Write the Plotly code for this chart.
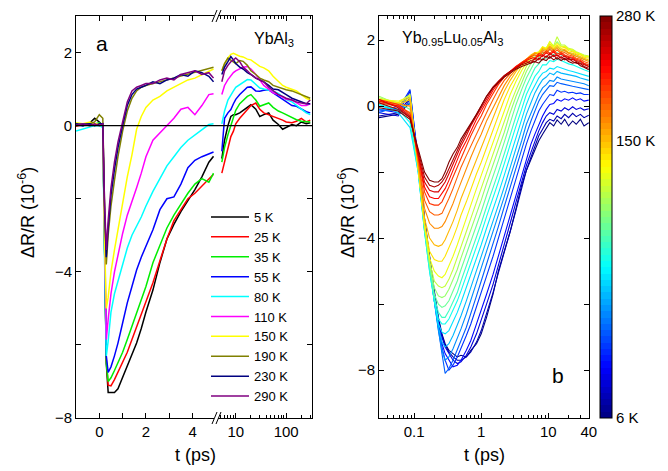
import numpy as np
import plotly.graph_objects as go

W, H = 668, 471

# ---------------- Panel a (YbAl3) ----------------
a_labels = ['5 K', '25 K', '35 K', '55 K', '80 K', '110 K', '150 K', '190 K', '230 K', '290 K']
a_colors = ['#000000', '#ff0000', '#00ee00', '#0000ff', '#00ffff', '#ff00ff',
            '#ffff00', '#808000', '#000080', '#800080']

t_a_left = [-1.0, -0.7, -0.4, -0.2, 0.0, 0.15, 0.22, 0.3, 0.38, 0.5, 0.65, 0.8, 1.0, 1.2,
            1.4, 1.6, 1.8, 2.0, 2.3, 2.6, 2.9, 3.2, 3.5, 3.8, 4.1, 4.4, 4.7, 4.9]
t_a_right = [5.3, 6, 7, 8, 9, 10, 12, 14, 17, 20, 25, 30, 36, 45, 55, 70, 85, 100, 130,
             160, 200, 250, 300]

a5_left = [0.05, 0.0, 0.08, 0.2, 0.1, 0.0, -3.0, -6.5, -7.3, -7.3, -7.3, -7.2, -6.9, -6.6,
           -6.3, -5.95, -5.55, -5.1, -4.5, -3.75, -3.1, -2.7, -2.35, -2.05, -1.75, -1.4, -1.0, -0.84]
a5_right = [-0.9, -0.4, 0.0, 0.25, 0.3, 0.3, 0.35, 0.42, 0.5, 0.57, 0.45, 0.25, 0.3, 0.35,
            0.15, 0.03, -0.1, -0.05, 0.03, 0.0, 0.1, 0.05, 0.08]
a25_left = [-0.02, 0.03, 0.0, 0.05, 0.05, 0.0, -3.0, -6.4, -7.1, -7.12, -6.95, -6.75, -6.5, -6.2,
            -5.85, -5.5, -5.2, -4.8, -4.3, -3.7, -3.1, -2.6, -2.3, -2.0, -1.85, -1.65, -1.45, -1.33]
a25_right = [-1.3, -1.0, -0.55, -0.3, -0.15, 0.05, 0.2, 0.3, 0.45, 0.55, 0.62, 0.45, 0.35, 0.3,
             0.25, 0.2, 0.15, 0.1, 0.08, 0.12, 0.2, 0.1, 0.15]
a35_left = [0.0, 0.05, 0.02, 0.05, 0.08, 0.0, -3.2, -6.5, -7.0, -6.9, -6.7, -6.5, -6.2, -5.85,
            -5.5, -5.15, -4.8, -4.4, -3.75, -3.25, -2.8, -2.45, -2.15, -1.85, -1.6, -1.45, -1.55, -1.3]
a35_right = [-1.0, -0.6, -0.25, 0.0, 0.25, 0.42, 0.6, 0.7, 0.8, 0.85, 0.7, 0.53, 0.58, 0.62,
             0.5, 0.4, 0.35, 0.3, 0.22, 0.16, 0.12, 0.1, 0.1]
a55_left = [0.02, 0.0, 0.05, 0.05, 0.05, 0.0, -3.0, -6.3, -6.75, -6.6, -6.3, -5.95, -5.4, -4.85,
            -4.4, -3.95, -3.6, -3.3, -2.85, -2.3, -2.0, -1.95, -1.6, -1.15, -0.95, -0.85, -0.78, -0.72]
a55_right = [-0.7, 0.2, 0.35, 0.44, 0.6, 0.72, 0.85, 0.95, 1.05, 1.06, 0.95, 0.94, 0.97, 0.98,
             0.9, 0.8, 0.72, 0.65, 0.55, 0.53, 0.45, 0.38, 0.35]
a80_left = [-0.15, -0.1, -0.05, 0.0, 0.0, -0.05, -3.5, -6.3, -5.9, -5.1, -4.6, -4.25, -3.8, -3.35,
            -3.0, -2.75, -2.5, -2.2, -1.8, -1.45, -1.1, -0.85, -0.6, -0.4, -0.25, -0.1, 0.03, 0.05]
a80_right = [0.05, 0.4, 0.7, 0.85, 0.95, 1.05, 1.12, 1.2, 1.26, 1.25, 1.12, 1.03, 1.0, 0.97,
             0.94, 0.88, 0.8, 0.71, 0.65, 0.55, 0.45, 0.35, 0.3]
a110_left = [0.0, 0.05, 0.03, 0.05, 0.05, 0.0, -3.3, -5.85, -5.3, -4.6, -4.0, -3.55, -2.95, -2.45,
             -2.1, -1.7, -1.3, -0.85, -0.4, -0.2, 0.0, 0.2, 0.45, 0.5, 0.3, 0.55, 0.85, 0.87]
a110_right = [0.85, 1.1, 1.26, 1.38, 1.45, 1.5, 1.55, 1.6, 1.62, 1.55, 1.4, 1.26, 1.1, 1.0,
              0.9, 0.85, 0.78, 0.72, 0.7, 0.62, 0.55, 0.55, 0.6]
a150_left = [0.08, 0.05, 0.1, 0.05, 0.05, 0.0, -3.0, -5.0, -4.7, -4.0, -3.4, -2.85, -2.1, -1.4,
             -0.8, -0.1, 0.25, 0.5, 0.7, 0.8, 0.95, 1.05, 1.15, 1.25, 1.3, 1.4, 1.5, 1.55]
a150_right = [1.5, 1.7, 1.85, 1.95, 1.98, 1.95, 1.9, 1.88, 1.82, 1.8, 1.7, 1.62, 1.58, 1.5,
              1.35, 1.2, 1.1, 1.05, 1.0, 0.95, 0.85, 0.75, 0.7]
a190_left = [0.0, 0.05, 0.05, 0.1, 0.3, 0.2, -2.0, -3.8, -3.0, -2.2, -1.5, -0.85, -0.15, 0.4,
             0.75, 0.95, 1.05, 1.1, 1.15, 1.2, 1.25, 1.3, 1.35, 1.4, 1.45, 1.5, 1.55, 1.6]
a190_right = [1.5, 1.7, 1.85, 1.8, 1.75, 1.7, 1.78, 1.76, 1.65, 1.5, 1.4, 1.3, 1.25, 1.2,
              1.1, 1.05, 1.0, 0.98, 0.95, 0.9, 0.85, 0.8, 0.75]
a230_left = [0.05, 0.03, 0.05, 0.0, 0.05, 0.05, -2.2, -3.6, -2.8, -1.9, -1.2, -0.6, 0.0, 0.55,
             0.85, 1.0, 1.05, 1.1, 1.2, 1.15, 1.25, 1.3, 1.4, 1.35, 1.5, 1.45, 1.35, 1.2]
a230_right = [1.4, 1.6, 1.75, 1.89, 1.8, 1.7, 1.6, 1.55, 1.45, 1.4, 1.3, 1.25, 1.2, 1.1,
              1.0, 0.98, 0.9, 0.85, 0.75, 0.7, 0.65, 0.6, 0.6]
a290_left = [0.0, 0.05, 0.0, 0.05, 0.0, 0.05, -2.0, -3.4, -2.6, -1.7, -1.0, -0.45, 0.1, 0.65,
             0.95, 1.05, 1.1, 1.15, 1.15, 1.25, 1.3, 1.25, 1.4, 1.45, 1.5, 1.4, 1.45, 1.3]
a290_right = [1.2, 1.5, 1.65, 1.75, 1.8, 1.85, 1.75, 1.6, 1.5, 1.4, 1.3, 1.25, 1.2, 1.05,
              0.95, 0.85, 0.8, 0.75, 0.7, 0.65, 0.62, 0.6, 0.7]

a_left = [a5_left, a25_left, a35_left, a55_left, a80_left, a110_left, a150_left,
          a190_left, a230_left, a290_left]
a_right = [a5_right, a25_right, a35_right, a55_right, a80_right, a110_right, a150_right,
           a190_right, a230_right, a290_right]

a_xlin_ticks = [0, 2, 4]
a_xlin_minor = [1, 3]
a_xlog_ticks = [10, 100]
a_xlog_minor = [5, 6, 7, 8, 9, 20, 30, 40, 50, 60, 70, 80, 90, 200, 300]
a_y_ticks = [-8, -4, 0, 2]
a_y_minor = [-6, -2]

# ---------------- Panel b (Yb0.95Lu0.05Al3) ----------------
# time grid: early (sparse) + middle + late (noisy) parts
t_b = [0.03, 0.058, 0.087, 0.115, 0.143, 0.17, 0.2, 0.23, 0.26, 0.29, 0.33, 0.38, 0.44, 0.5,
       0.6, 0.7, 0.85, 1.0, 1.2, 1.5, 1.8, 2.2, 2.7, 3.3, 4.0,
       4.7, 5.5, 6.3, 7.2, 8.2, 9.3, 10.5, 12, 13.5, 15.5, 17.5, 20, 23, 26, 30, 34, 40]

# curves ordered from 6 K (b00) to 280 K (b23)
b00 = [-0.35, -0.25, 0.1, -1.6, -3.4, -4.6, -5.6, -6.4, -6.9, -7.2, -7.4, -7.5, -7.6, -7.55,
       -7.6, -7.4, -7.2, -6.9, -6.4, -5.7, -5.0, -4.4, -3.8, -3.1, -2.4,
       -1.95, -1.6, -1.3, -1.05, -0.85, -0.65, -0.5, -0.6, -0.42, -0.55, -0.4, -0.6, -0.45, -0.55, -0.4, -0.6, -0.5]
b01 = [-0.3, -0.2, 0.25, -1.65, -3.45, -4.65, -5.65, -6.45, -6.95, -7.25, -7.45, -7.6, -7.7, -7.7,
       -7.6, -7.45, -7.15, -6.8, -6.3, -5.65, -5.05, -4.45, -3.8, -3.15, -2.45,
       -1.95, -1.55, -1.2, -0.9, -0.7, -0.5, -0.4, -0.45, -0.3, -0.38, -0.25, -0.35, -0.22, -0.32, -0.25, -0.35, -0.28]
b02 = [-0.2, -0.3, 0.2, -1.7, -3.5, -4.7, -5.7, -6.5, -7.0, -7.3, -7.5, -7.7, -7.8, -7.75,
       -7.55, -7.3, -6.9, -6.5, -6.0, -5.4, -4.85, -4.2, -3.55, -2.9, -2.3,
       -1.8, -1.4, -1.05, -0.75, -0.5, -0.3, -0.2, -0.25, -0.1, -0.15, -0.05, -0.12, -0.02, -0.1, -0.05, -0.12, -0.08]
b03 = [-0.1, -0.2, 0.45, -1.6, -3.5, -4.8, -5.8, -6.6, -7.2, -7.5, -7.7, -7.9, -7.85, -7.7,
       -7.4, -7.1, -6.6, -6.2, -5.7, -5.1, -4.55, -3.95, -3.3, -2.7, -2.1,
       -1.6, -1.15, -0.85, -0.55, -0.3, -0.1, 0.05, 0.08, 0.2, 0.15, 0.22, 0.18, 0.25, 0.18, 0.22, 0.15, 0.18]
b04 = [-0.15, -0.1, 0.5, -1.7, -3.6, -4.8, -5.8, -6.7, -7.3, -7.7, -8.0, -7.85, -7.6, -7.35,
       -6.95, -6.6, -6.1, -5.65, -5.15, -4.55, -4.0, -3.4, -2.8, -2.2, -1.65,
       -1.15, -0.75, -0.45, -0.15, 0.05, 0.2, 0.35, 0.32, 0.48, 0.42, 0.45, 0.4, 0.42, 0.38, 0.4, 0.35, 0.35]
b05 = [-0.2, 0.0, 0.3, -1.8, -3.6, -4.8, -5.9, -6.8, -7.5, -8.1, -7.95, -7.7, -7.4, -7.1,
       -6.7, -6.3, -5.75, -5.3, -4.8, -4.2, -3.65, -3.05, -2.45, -1.9, -1.35,
       -0.85, -0.45, -0.15, 0.15, 0.35, 0.48, 0.62, 0.6, 0.72, 0.68, 0.65, 0.62, 0.6, 0.58, 0.55, 0.52, 0.5]
b06 = [-0.1, -0.15, 0.1, -1.9, -3.7, -4.9, -5.9, -6.8, -7.4, -7.7, -7.6, -7.35, -7.05, -6.75,
       -6.3, -5.9, -5.35, -4.9, -4.4, -3.85, -3.3, -2.75, -2.15, -1.6, -1.05,
       -0.55, -0.2, 0.1, 0.35, 0.55, 0.65, 0.78, 0.75, 0.88, 0.82, 0.8, 0.78, 0.75, 0.72, 0.7, 0.68, 0.62]
b07 = [0.0, -0.1, -0.3, -1.95, -3.75, -4.95, -5.9, -6.7, -7.15, -7.3, -7.2, -6.95, -6.65, -6.35,
       -5.9, -5.5, -5.0, -4.55, -4.05, -3.5, -3.0, -2.45, -1.85, -1.3, -0.75,
       -0.25, 0.1, 0.4, 0.62, 0.8, 0.88, 1.0, 0.95, 1.05, 1.0, 0.98, 0.95, 0.92, 0.9, 0.85, 0.82, 0.78]
b08 = [0.05, -0.2, -0.65, -2.0, -3.8, -5.0, -5.9, -6.6, -6.85, -6.9, -6.8, -6.55, -6.25, -5.95,
       -5.5, -5.1, -4.6, -4.2, -3.7, -3.15, -2.65, -2.1, -1.5, -0.95, -0.4,
       0.05, 0.4, 0.65, 0.85, 1.0, 1.05, 1.15, 1.12, 1.2, 1.15, 1.12, 1.08, 1.05, 1.02, 0.98, 0.95, 0.9]
b09 = [0.05, -0.1, -0.5, -2.0, -3.8, -5.0, -5.9, -6.45, -6.6, -6.6, -6.45, -6.2, -5.9, -5.6,
       -5.15, -4.75, -4.25, -3.85, -3.35, -2.8, -2.3, -1.75, -1.15, -0.6, -0.1,
       0.35, 0.65, 0.9, 1.05, 1.25, 1.25, 1.38, 1.35, 1.42, 1.38, 1.32, 1.28, 1.25, 1.2, 1.15, 1.1, 1.05]
b10 = [0.1, 0.0, -0.3, -1.9, -3.7, -4.9, -5.8, -6.25, -6.4, -6.4, -6.2, -5.95, -5.65, -5.3,
       -4.85, -4.45, -3.95, -3.55, -3.05, -2.5, -2.0, -1.45, -0.85, -0.3, 0.2,
       0.6, 0.9, 1.15, 1.28, 1.45, 1.45, 1.6, 1.55, 1.62, 1.55, 1.52, 1.48, 1.42, 1.38, 1.32, 1.28, 1.22]
b11 = [0.2, 0.1, -0.1, -1.9, -3.7, -4.8, -5.7, -6.0, -6.1, -6.05, -5.9, -5.6, -5.3, -4.95,
       -4.5, -4.1, -3.6, -3.2, -2.7, -2.15, -1.65, -1.1, -0.5, 0.05, 0.5,
       0.85, 1.12, 1.35, 1.45, 1.62, 1.6, 1.75, 1.7, 1.8, 1.7, 1.68, 1.62, 1.58, 1.52, 1.48, 1.42, 1.38]
b12 = [0.3, 0.05, 0.2, -1.85, -3.65, -4.8, -5.5, -5.75, -5.8, -5.75, -5.55, -5.25, -4.95, -4.6,
       -4.15, -3.75, -3.25, -2.85, -2.35, -1.8, -1.3, -0.8, -0.2, 0.3, 0.7,
       1.05, 1.3, 1.5, 1.58, 1.72, 1.7, 1.88, 1.8, 1.95, 1.82, 1.8, 1.72, 1.68, 1.62, 1.58, 1.52, 1.48]
b13 = [0.25, 0.1, 0.35, -1.8, -3.6, -4.7, -5.3, -5.45, -5.5, -5.45, -5.25, -4.95, -4.6, -4.25,
       -3.8, -3.4, -2.9, -2.5, -2.0, -1.45, -1.0, -0.5, 0.05, 0.5, 0.9,
       1.2, 1.42, 1.58, 1.62, 1.78, 1.75, 1.95, 1.82, 2.1, 1.85, 1.85, 1.75, 1.72, 1.65, 1.6, 1.55, 1.52]
b14 = [0.2, 0.15, 0.3, -1.8, -3.6, -4.6, -5.0, -5.15, -5.2, -5.1, -4.85, -4.55, -4.2, -3.85,
       -3.4, -3.0, -2.5, -2.1, -1.65, -1.1, -0.65, -0.15, 0.35, 0.75, 1.08,
       1.3, 1.48, 1.6, 1.65, 1.8, 1.75, 1.95, 1.8, 1.9, 1.8, 1.82, 1.72, 1.7, 1.62, 1.58, 1.52, 1.5]
b15 = [0.2, 0.1, 0.25, -1.8, -3.55, -4.4, -4.65, -4.7, -4.7, -4.55, -4.3, -4.0, -3.65, -3.3,
       -2.9, -2.5, -2.05, -1.7, -1.25, -0.75, -0.3, 0.2, 0.6, 0.92, 1.2,
       1.38, 1.52, 1.62, 1.6, 1.78, 1.72, 1.88, 1.75, 1.85, 1.75, 1.78, 1.68, 1.65, 1.58, 1.55, 1.48, 1.45]
b16 = [0.15, 0.05, 0.2, -1.75, -3.4, -4.0, -4.2, -4.25, -4.2, -4.05, -3.8, -3.5, -3.15, -2.8,
       -2.4, -2.05, -1.6, -1.25, -0.85, -0.35, 0.05, 0.45, 0.78, 1.05, 1.28,
       1.42, 1.55, 1.62, 1.58, 1.75, 1.7, 1.82, 1.72, 1.8, 1.7, 1.72, 1.62, 1.6, 1.55, 1.5, 1.45, 1.4]
b17 = [0.15, 0.05, 0.0, -1.7, -3.1, -3.55, -3.7, -3.7, -3.65, -3.5, -3.25, -2.95, -2.6, -2.3,
       -1.9, -1.55, -1.15, -0.85, -0.45, -0.05, 0.3, 0.62, 0.9, 1.12, 1.3,
       1.42, 1.52, 1.6, 1.55, 1.7, 1.65, 1.78, 1.68, 1.75, 1.65, 1.68, 1.6, 1.55, 1.5, 1.45, 1.4, 1.35]
b18 = [0.1, 0.0, -0.2, -1.6, -2.85, -3.2, -3.3, -3.3, -3.25, -3.05, -2.8, -2.5, -2.15, -1.85,
       -1.5, -1.2, -0.85, -0.55, -0.2, 0.2, 0.5, 0.78, 1.0, 1.18, 1.32,
       1.42, 1.5, 1.55, 1.5, 1.65, 1.6, 1.72, 1.62, 1.7, 1.6, 1.62, 1.55, 1.52, 1.45, 1.42, 1.35, 1.3]
b19 = [0.2, 0.05, -0.25, -1.5, -2.6, -2.95, -3.0, -3.0, -2.9, -2.7, -2.45, -2.15, -1.85, -1.55,
       -1.2, -0.9, -0.55, -0.3, 0.05, 0.4, 0.65, 0.88, 1.05, 1.2, 1.32,
       1.4, 1.5, 1.45, 1.6, 1.55, 1.68, 1.6, 1.7, 1.58, 1.62, 1.55, 1.5, 1.48, 1.42, 1.38, 1.3, 1.25]
b20 = [0.15, 0.0, -0.3, -1.45, -2.45, -2.75, -2.8, -2.8, -2.65, -2.5, -2.25, -1.95, -1.65, -1.35,
       -1.05, -0.75, -0.4, -0.15, 0.15, 0.48, 0.7, 0.9, 1.05, 1.2, 1.3,
       1.38, 1.45, 1.4, 1.55, 1.5, 1.62, 1.55, 1.65, 1.52, 1.58, 1.5, 1.48, 1.45, 1.38, 1.35, 1.28, 1.2]
b21 = [0.2, -0.05, -0.35, -1.4, -2.3, -2.55, -2.6, -2.6, -2.45, -2.3, -2.05, -1.75, -1.45, -1.2,
       -0.9, -0.6, -0.3, -0.05, 0.25, 0.55, 0.75, 0.92, 1.05, 1.18, 1.28,
       1.35, 1.3, 1.45, 1.4, 1.55, 1.48, 1.6, 1.5, 1.55, 1.45, 1.52, 1.4, 1.42, 1.35, 1.3, 1.25, 1.2]
b22 = [0.1, -0.1, -0.35, -1.35, -2.15, -2.4, -2.45, -2.4, -2.3, -2.15, -1.9, -1.6, -1.35, -1.1,
       -0.8, -0.55, -0.25, 0.02, 0.3, 0.58, 0.75, 0.92, 1.05, 1.15, 1.25,
       1.3, 1.38, 1.33, 1.45, 1.4, 1.52, 1.45, 1.55, 1.42, 1.5, 1.4, 1.45, 1.35, 1.3, 1.28, 1.2, 1.15]
b23 = [-0.05, -0.15, -0.4, -1.3, -2.0, -2.25, -2.3, -2.3, -2.2, -2.0, -1.7, -1.45, -1.25, -1.0,
       -0.75, -0.5, -0.25, 0.0, 0.3, 0.55, 0.72, 0.88, 1.0, 1.12, 1.2,
       1.25, 1.3, 1.35, 1.3, 1.42, 1.38, 1.5, 1.4, 1.47, 1.38, 1.45, 1.35, 1.3, 1.33, 1.22, 1.18, 1.1]

b_curves = [b00, b01, b02, b03, b04, b05, b06, b07, b08, b09, b10, b11,
            b12, b13, b14, b15, b16, b17, b18, b19, b20, b21, b22, b23]

b_x_ticks = [0.1, 1, 10, 40]
b_x_text = ['0.1', '1', '10', '40']
b_x_minor = [0.04, 0.05, 0.06, 0.07, 0.08, 0.09, 0.2, 0.3, 0.4, 0.5, 0.6, 0.7, 0.8, 0.9,
             2, 3, 4, 5, 6, 7, 8, 9, 20, 30]
b_y_ticks = [-8, -4, 0, 2]
b_y_text = ['\u22128', '\u22124', '0', '2']
b_y_minor = [-6, -2]

cb_tick_pos = [0.0, 0.69, 1.0]
cb_tick_text = ['6 K', '150 K', '280 K']


# ---------------- helpers ----------------
def px(x):
    return x / W


def py(y):
    return 1 - y / H


def jet(f):
    r = min(max(1.5 - abs(4 * f - 3), 0), 1)
    g = min(max(1.5 - abs(4 * f - 2), 0), 1)
    b = min(max(1.5 - abs(4 * f - 1), 0), 1)
    return 'rgb(%d,%d,%d)' % (round(r * 255), round(g * 255), round(b * 255))


FONT = 'Arial, Liberation Sans, sans-serif'
fig = go.Figure()

# panel a traces
for lab, col, yl, yr in zip(a_labels, a_colors, a_left, a_right):
    fig.add_trace(go.Scatter(x=t_a_left, y=yl, mode='lines', name=lab, legendgroup=lab,
                             line=dict(color=col, width=1.5), xaxis='x', yaxis='y'))
    fig.add_trace(go.Scatter(x=t_a_right, y=yr, mode='lines', name=lab, legendgroup=lab,
                             showlegend=False, line=dict(color=col, width=1.5),
                             xaxis='x2', yaxis='y3'))

# panel b traces
n_b = len(b_curves)
for i, yv in enumerate(b_curves):
    fig.add_trace(go.Scatter(x=t_b, y=yv, mode='lines', showlegend=False,
                             line=dict(color=jet(i / (n_b - 1)), width=1.1),
                             xaxis='x3', yaxis='y2'))

# colorbar (stepped jet)
nsteps = 64
cscale = []
for k in range(nsteps):
    c = jet((k + 0.5) / nsteps)
    cscale.append([k / nsteps, c])
    cscale.append([(k + 1) / nsteps, c])
fig.add_trace(go.Scatter(x=[None], y=[None], mode='markers', showlegend=False,
                         xaxis='x3', yaxis='y2',
                         marker=dict(color=[0], cmin=0, cmax=1, colorscale=cscale, showscale=True,
                                     colorbar=dict(x=px(600), xanchor='left', y=py(16), yanchor='top',
                                                   len=402 / H, lenmode='fraction', thickness=12,
                                                   thicknessmode='pixels', xpad=0, ypad=0,
                                                   outlinewidth=1, outlinecolor='black',
                                                   tickvals=cb_tick_pos, ticktext=cb_tick_text,
                                                   ticks='', tickfont=dict(size=15, color='black')))))

ydom = [py(418), py(16)]
axis_common = dict(showgrid=False, zeroline=False, showline=True, linecolor='black', linewidth=1,
                   ticks='inside', tickcolor='black', ticklen=5, tickwidth=1, automargin=False,
                   tickfont=dict(size=15, color='black', family=FONT))


def minor(vals, ln=3):
    return dict(tickmode='array', tickvals=vals, ticks='inside', ticklen=ln, tickcolor='black',
                showgrid=False)


fig.update_layout(
    width=W, height=H, margin=dict(l=0, r=0, t=0, b=0, autoexpand=False),
    paper_bgcolor='white', plot_bgcolor='white',
    font=dict(family=FONT, color='black'),
    xaxis=dict(domain=[px(76), px(214)], range=[-1, 4.92], anchor='y', tickmode='array',
               tickvals=a_xlin_ticks, mirror='ticks', minor=minor(a_xlin_minor, 5), **axis_common),
    xaxis2=dict(domain=[px(218), px(312)], type='log', range=[np.log10(4.45), np.log10(325)],
                anchor='y3', tickmode='array', tickvals=a_xlog_ticks, ticktext=['10', '100'],
                mirror='ticks', minor=minor(a_xlog_minor), **axis_common),
    yaxis=dict(domain=ydom, range=[-8, 3], anchor='x', tickmode='array', tickvals=a_y_ticks,
               minor=minor(a_y_minor, 5), **axis_common),
    yaxis3=dict(domain=ydom, range=[-8, 3], anchor='x2', side='right', tickmode='array',
                tickvals=a_y_ticks, showticklabels=False, minor=minor(a_y_minor, 5), **axis_common),
    xaxis3=dict(domain=[px(379), px(589)], type='log',
                range=[np.log10(0.03), np.log10(40.3)], anchor='y2', tickmode='array',
                tickvals=b_x_ticks, ticktext=b_x_text, mirror='ticks',
                minor=minor(b_x_minor), **axis_common),
    yaxis2=dict(domain=ydom, range=[-9.45, 2.73], anchor='x3', tickmode='array',
                tickvals=b_y_ticks, ticktext=b_y_text, mirror='ticks',
                minor=minor(b_y_minor, 5), **axis_common),
    legend=dict(x=px(206), y=py(202), xanchor='left', yanchor='top', bgcolor='rgba(0,0,0,0)',
                font=dict(size=13, color='black', family=FONT), tracegroupgap=0, itemwidth=38),
    showlegend=True,
)

# zero line across panel a
fig.add_shape(type='line', xref='paper', yref='y', x0=px(76), x1=px(312), y0=0, y1=0,
              line=dict(color='black', width=1.2))

# axis break marks
for yb in (16, 418):
    for dx in (0, 4):
        fig.add_shape(type='line', xref='paper', yref='paper',
                      x0=px(212 + dx), x1=px(217 + dx), y0=py(yb + 6), y1=py(yb - 6),
                      line=dict(color='black', width=1))

ann = [
    dict(text='a', x=px(102), y=py(44), font=dict(size=21)),
    dict(text='YbAl<sub>3</sub>', x=px(274), y=py(40), font=dict(size=16)),
    dict(text='Yb<sub>0.95</sub>Lu<sub>0.05</sub>Al<sub>3</sub>', x=px(452), y=py(39),
         font=dict(size=16)),
    dict(text='b', x=px(558), y=py(375), font=dict(size=21)),
    dict(text='t (ps)', x=px(195), y=py(455), font=dict(size=18)),
    dict(text='t (ps)', x=px(484), y=py(455), font=dict(size=18)),
    dict(text='\u0394R/R (10<sup>-6</sup>)', x=px(26), y=py(213), font=dict(size=18),
         textangle=-90),
    dict(text='\u0394R/R (10<sup>-6</sup>)', x=px(346), y=py(213), font=dict(size=18),
         textangle=-90),
]
for a in ann:
    a.update(xref='paper', yref='paper', showarrow=False, xanchor='center', yanchor='middle')
    a['font'].update(family=FONT, color='black')
    fig.add_annotation(**a)

fig.write_html('out.html', config={'displayModeBar': False},
               post_script="document.body.style.margin='0px';")
